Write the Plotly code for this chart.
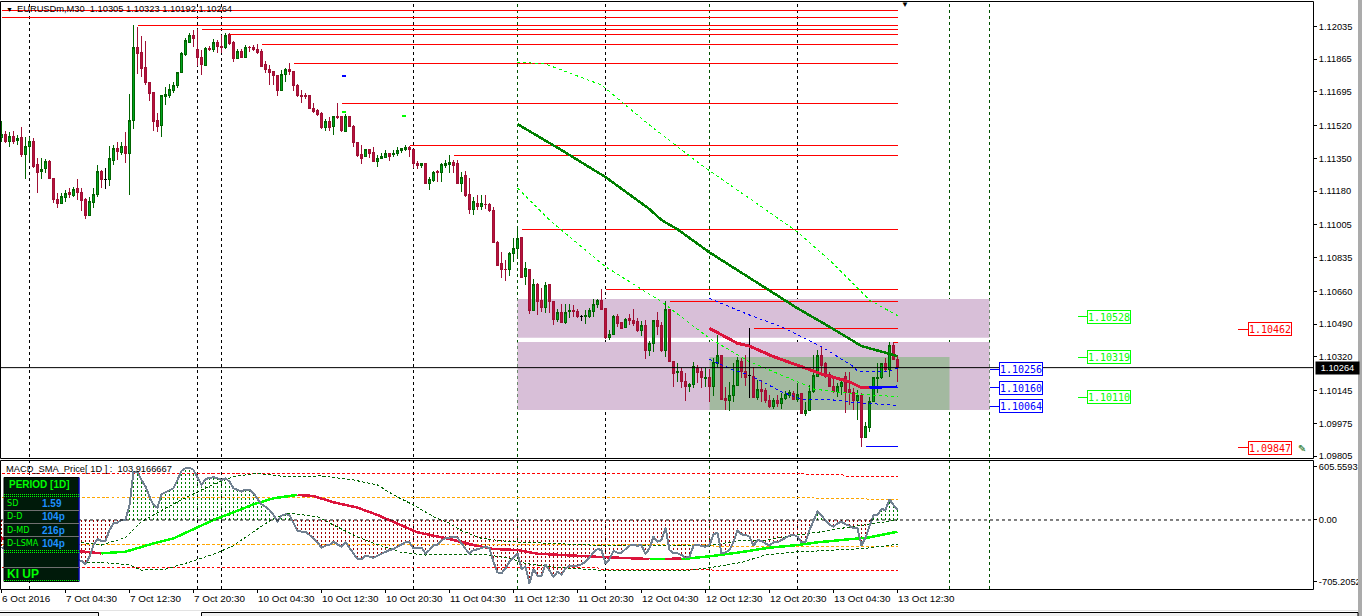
import plotly.graph_objects as go

# ---------- DATA (prices in 1e-5 above 1.0) ----------
opens = [11458,11475,11437,11466,11442,11456,11368,11411,11440,11316,11281,11297,11336,11248,11137,11115,11146,11172,11160,11196,
11174,11139,11056,11120,11165,11284,11241,11238,11338,11399,11383,11414,11376,11546,11928,11899,11824,11745,11693,11549,
11520,11670,11679,11705,11727,11795,11887,11954,11990,11913,11874,11831,11921,11913,11954,11933,11925,11992,11954,11868,
11907,11874,11928,11926,11916,11907,11835,11814,11800,11781,11701,11784,11812,11803,11731,11677,11677,11674,11611,11601,
11584,11508,11544,11515,11568,11565,11492,11565,11518,11433,11368,11359,11394,11383,11336,11349,11357,11376,11368,11373,
11392,11394,11407,11394,11326,11312,11323,11219,11236,11284,11276,11312,11316,11329,11321,11219,11259,11165,11087,11118,
11098,11113,11113,11082,10916,10802,10776,10771,10857,10881,10937,10736,10774,10559,10698,10610,10575,10693,10608,10516,
10551,10497,10554,10563,10556,10530,10530,10532,10558,10591,10615,10573,10423,10435,10530,10497,10471,10518,10511,10502,
10459,10485,10352,10388,10511,10485,10355,10566,10296,10238,10246,10193,10165,10174,10260,10246,10210,10213,10165,10286,
10329,10104,10092,10118,10170,10298,10246,10222,10217,10111,10148,10144,10094,10060,10094,10079,10104,10122,10130,10099,
10130,10028,10042,10139,10220,10329,10283,10229,10168,10139,10165,10217,10153,10134,10091,10118,9902,9954,10087,10210,
10212,10286,10255,10381,10305]
closes = [11475,11440,11466,11437,11451,11368,11414,11440,11310,11276,11295,11336,11245,11136,11115,11150,11167,11162,11191,11172,
11134,11056,11124,11165,11283,11239,11241,11347,11399,11385,11414,11376,11547,11928,11892,11819,11743,11688,11544,11518,
11674,11684,11710,11731,11797,11892,11961,11990,11971,11873,11835,11921,11913,11952,11933,11925,11990,11947,11868,11907,
11874,11926,11925,11913,11902,11829,11812,11795,11779,11701,11788,11809,11803,11726,11674,11670,11672,11608,11596,11580,
11509,11542,11513,11568,11560,11494,11565,11515,11432,11364,11352,11394,11378,11336,11352,11362,11378,11362,11376,11392,
11399,11409,11395,11323,11312,11321,11219,11241,11279,11279,11316,11324,11329,11312,11219,11253,11160,11087,11124,11098,
11118,11110,11079,10913,10796,10776,10772,10857,10883,10935,10732,10779,10559,10698,10606,10575,10691,10606,10516,10551,
10497,10551,10563,10553,10527,10530,10535,10561,10594,10615,10565,10423,10437,10530,10494,10469,10516,10508,10494,10459,
10485,10352,10390,10511,10480,10355,10568,10295,10236,10245,10191,10165,10179,10269,10241,10212,10213,10165,10291,10328,
10101,10092,10120,10172,10303,10246,10215,10222,10111,10148,10139,10091,10060,10094,10079,10104,10127,10136,10101,10127,
10028,10044,10141,10224,10329,10277,10217,10165,10139,10168,10187,10137,10136,10091,10118,9904,9956,10089,10213,10215,
10286,10252,10381,10307,10264]
highs = [11544,11492,11489,11492,11471,11513,11459,11463,11454,11350,11350,11347,11342,11250,11169,11172,11186,11195,11203,11243,
11195,11143,11151,11195,11316,11290,11302,11416,11419,11437,11437,11489,11684,12042,12034,11985,11959,11748,11696,11584,
11679,11722,11736,11748,11800,11904,11973,11999,12016,12020,11913,11930,11933,11968,11964,11990,11999,11999,11959,11916,
11916,11938,11935,11938,11944,11916,11855,11835,11805,11783,11809,11817,11843,11805,11734,11705,11688,11675,11636,11608,
11592,11553,11567,11570,11636,11570,11580,11570,11523,11437,11419,11397,11397,11409,11368,11380,11394,11378,11394,11409,
11402,11419,11416,11396,11338,11328,11324,11255,11284,11290,11324,11342,11368,11342,11342,11281,11284,11250,11148,11158,
11158,11160,11117,11096,10923,10862,10822,10864,10935,10982,10940,10810,10776,10722,10701,10675,10706,10696,10610,10566,
10592,10592,10594,10589,10566,10539,10563,10572,10622,10620,10672,10573,10459,10537,10542,10502,10523,10540,10568,10520,
10508,10511,10404,10511,10554,10502,10611,10568,10296,10286,10260,10234,10186,10291,10277,10264,10264,10257,10312,10433,
10331,10165,10191,10286,10321,10312,10329,10468,10269,10200,10200,10156,10122,10104,10122,10130,10144,10148,10144,10182,
10130,10087,10174,10329,10355,10369,10295,10243,10217,10182,10208,10243,10243,10156,10148,10130,9983,10113,10217,10290,
10286,10312,10395,10395,10323]
lows = [11437,11432,11411,11425,11419,11359,11243,11342,11302,11172,11243,11272,11241,11117,11092,11113,11122,11143,11151,11134,
11079,11035,11051,11091,11151,11195,11191,11208,11317,11342,11368,11328,11160,11502,11788,11774,11731,11648,11492,11489,
11463,11627,11662,11688,11717,11791,11881,11947,11930,11831,11783,11829,11907,11904,11899,11899,11919,11938,11852,11864,
11873,11871,11904,11909,11892,11826,11795,11731,11731,11674,11700,11748,11783,11701,11670,11639,11656,11605,11584,11572,
11501,11494,11492,11471,11554,11489,11485,11513,11411,11355,11323,11355,11354,11333,11307,11345,11354,11336,11359,11362,
11380,11388,11357,11298,11295,11298,11217,11186,11229,11229,11227,11298,11276,11276,11217,11177,11151,11063,11056,11082,
11082,11087,11072,10909,10791,10731,10713,10741,10814,10840,10727,10693,10542,10556,10537,10554,10549,10549,10485,10502,
10494,10492,10520,10528,10520,10506,10490,10520,10528,10572,10563,10411,10407,10431,10476,10463,10468,10485,10480,10450,
10430,10309,10324,10347,10433,10347,10321,10291,10165,10191,10156,10091,10139,10156,10182,10156,10165,10087,10118,10260,
10094,10044,10040,10087,10168,10208,10168,10104,10108,10096,10087,10079,10053,10047,10061,10049,10096,10104,10096,10087,
10023,10013,10040,10134,10217,10226,10208,10162,10130,10113,10122,10030,10070,10044,9992,9854,9897,9931,10085,10130,
10207,10243,10217,10303,10192]

macd_main = [-324,-305,-286,-305,-324,-362,-400,-362,-381,-400,-419,-438,-400,-400,-400,-419,-457,-476,-457,-457,
-465,-503,-419,-286,-217,-240,-240,-114,-38,-30,0,0,171,552,552,457,381,267,171,141,
293,316,343,362,457,560,591,598,572,476,400,469,476,488,476,457,476,438,362,343,
324,347,343,305,248,179,152,114,57,-19,50,65,57,-38,-126,-133,-133,-171,-217,-255,
-316,-293,-286,-248,-278,-305,-255,-316,-381,-446,-446,-408,-419,-431,-408,-385,-362,-343,-331,-305,
-278,-255,-255,-324,-324,-316,-381,-343,-286,-286,-229,-210,-202,-190,-202,-267,-331,-381,-343,-335,
-324,-305,-324,-476,-598,-610,-552,-476,-431,-381,-560,-533,-724,-560,-636,-636,-507,-572,-648,-591,
-621,-552,-526,-526,-522,-507,-476,-427,-370,-331,-343,-495,-446,-354,-373,-373,-335,-293,-286,-293,
-286,-389,-324,-190,-248,-229,-88,-343,-381,-381,-400,-431,-419,-293,-286,-293,-305,-286,-164,-145,
-381,-370,-343,-248,-118,-164,-171,-190,-293,-229,-240,-267,-293,-255,-255,-229,-202,-179,-171,-190,
-255,-255,-114,0,95,50,0,-57,-76,-38,-19,-50,-65,-95,-95,-293,-202,-65,57,57,
126,114,236,171,114]

sig_red1_bar = [0,19,25]
sig_red1 = [-210,-354,-381]
sig_green1_bar = [25,31,33,38,43,48,53,58,63,68,74]
sig_green1 = [-381,-362,-335,-267,-210,-103,0,88,179,248,286]
sig_red2_bar = [74,78,83,89,94,99,104,112,118,123,129,134,141,150,160,162]
sig_red2 = [286,274,202,141,57,-38,-141,-217,-286,-331,-343,-385,-404,-423,-442,-446]
sig_green2_bar = [162,166]
sig_green2 = [-446,-446]
sig_red3_bar = [166,170]
sig_red3 = [-446,-438]
sig_green3_bar = [170,177,184,192,199,204,217,224]
sig_green3 = [-446,-415,-373,-316,-286,-255,-198,-133]

env_up_bar = [20,25,31,35,41,47,53,58,64,71,80,88,94,98,103,108,112,115,120,127,137,151,159,167,177,184,191,199,204,210,217,224]
env_up = [-255,-286,-202,-19,133,278,408,495,533,495,503,457,400,286,171,38,-38,-122,-210,-248,-267,-293,-286,-286,-293,-240,-229,-171,-141,-95,-50,0]
env_lo_bar = [20,25,32,35,41,46,53,58,63,68,72,79,83,88,93,100,106,112,117,122,127,131,137,149,172,177,185,191,199,204,216,224]
env_lo = [-484,-484,-514,-572,-560,-495,-392,-293,-133,19,76,38,-57,-171,-267,-370,-400,-392,-392,-400,-438,-495,-533,-572,-572,-545,-484,-400,-362,-354,-324,-278]

lvl_red_up_bar = [0,200,201,210,211,224]
lvl_red_up = [533,533,522,522,495,495]
lvl_or_up_bar = [0,203,204,216,217,224]
lvl_or_up = [259,259,244,244,229,229]
lvl_or_lo_bar = [0,177,178,224]
lvl_or_lo = [-278,-278,-297,-297]
lvl_red_lo_bar = [0,149,150,177,178,224]
lvl_red_lo = [-545,-545,-564,-564,-575,-575]

red_level_price = [12118,12082,12041,12020,11994,11942,11843,11636,11418,11366,10982,10670,10608,10468,10395]
red_level_start = [0,0,34,50,57,65,73,85,102,113,130,151,167,188,223]

ma_dark_bar = [129,140,151,162,165,169,177,184,191,196,199,207,215,224]
ma_dark = [11528,11393,11253,11087,11030,10982,10862,10770,10675,10610,10572,10476,10376,10324]
ma_up_bar = [129,136,150,162,175,195,199,207,217,224]
ma_up = [11850,11840,11731,11523,11315,11030,10969,10822,10615,10534]
ma_lo_bar = [129,137,151,165,177,187,200,203,212,224]
ma_lo = [11196,11030,10788,10606,10416,10295,10182,10153,10130,10113]
crim_bar = [177,184,187,193,200,205,212,215,217]
crim = [10468,10390,10376,10321,10269,10231,10191,10160,10160]
blue_mid_bar = [217,224]
blue_mid = [10160,10165]
blue_up_bar = [177,187,195,205,213,214,221,224]
blue_up = [10623,10537,10476,10373,10269,10246,10243,10260]
blue_lo_bar = [177,183,187,191,195,200,208,214,224]
blue_lo = [10307,10251,10226,10182,10139,10099,10096,10082,10068]
blue_floor_bar = [216,224]
blue_floor = [9855,9855]

zone_bar = [129,247]
zone_up = [10620,10419]
zone_lo = [10397,10044]
zone_green_bar = [177,237]
zone_green = [10319,10044]

grid_black = [7,49,55,103,151,199]
grid_green = [129,177,237,247]

last_price = 10264
price_ticks = [12035,11865,11695,11520,11350,11180,11005,10835,10660,10490,10320,10145,9975,9805]
macd_ticks = [605.5593,0,-705.2052]
macd_tick_text = ["605.5593","0.00","-705.2052"]
time_ticks = [0,16,32,48,64,80,96,112,128,144,160,176,192,208,224]
time_labels = ["6 Oct 2016","7 Oct 04:30","7 Oct 12:30","7 Oct 20:30","10 Oct 04:30","10 Oct 12:30","10 Oct 20:30",
 "11 Oct 04:30","11 Oct 12:30","11 Oct 20:30","12 Oct 04:30","12 Oct 12:30","12 Oct 20:30","13 Oct 04:30","13 Oct 12:30"]
green_box = [10528,10319,10110]
blue_box = [10256,10160,10064]
red_box = [10462,9847]

title_text = "EURUSDm,M30  1.10305 1.10323 1.10192 1.10264"
sub_title = "MACD_SMA_Price[ 1D ] :  103.9166667"
panel_rows = [("SD","1.59"),("D-D","104p"),("D-MD","216p"),("D-LSMA","104p")]

# ---------- HELPERS ----------
W, H = 1362, 616
px = lambda x: x / W
py = lambda y: 1 - y / H
pr = lambda p: 1 + p / 1e5
prs = lambda a: [pr(p) for p in a]
FONT = "Liberation Sans"
AX = 9.3
bars = list(range(len(opens)))
fig = go.Figure()

def line(xs, ys, color, width=1, dash="solid", yaxis="y"):
    fig.add_trace(go.Scatter(x=xs, y=ys, mode="lines", yaxis=yaxis, xaxis="x", hoverinfo="skip",
                             line=dict(color=color, width=width, dash=dash), showlegend=False))

# ---------- MAIN PANEL ----------
for s, p in zip(red_level_start, red_level_price):
    line([s, 224], [pr(p), pr(p)], "#FF0000", 1)

line(ma_up_bar, prs(ma_up), "#00FF00", 1, "3px,3px")
line(ma_lo_bar, prs(ma_lo), "#00FF00", 1, "3px,3px")
line(blue_up_bar, prs(blue_up), "#0000FF", 1, "3px,3px")
line(blue_lo_bar, prs(blue_lo), "#0000FF", 1, "3px,3px")

doji = [i for i in bars if opens[i] == closes[i]]
solid = [i for i in bars if opens[i] != closes[i]]
fig.add_trace(go.Candlestick(x=solid, open=[pr(opens[i]) for i in solid], high=[pr(highs[i]) for i in solid],
    low=[pr(lows[i]) for i in solid], close=[pr(closes[i]) for i in solid], showlegend=False, hoverinfo="skip",
    increasing=dict(line=dict(color="#006400", width=1), fillcolor="#00A51E"),
    decreasing=dict(line=dict(color="#A01035", width=1), fillcolor="#B8123C"), whiskerwidth=0))
for i in doji:
    line([i, i], [pr(lows[i]), pr(highs[i])], "#000000", 1)
    line([i-0.4, i+0.4], [pr(opens[i]), pr(opens[i])], "#000000", 1)

line(ma_dark_bar, prs(ma_dark), "#008000", 2.5)
line(crim_bar, prs(crim), "#DC143C", 3)
line(blue_mid_bar, prs(blue_mid), "#0000FF", 2.5)
line(blue_floor_bar, prs(blue_floor), "#0000FF", 1)
# short markers
line([85, 86.2], [pr(11778)]*2, "#0000FF", 2)
line([85, 86.2], [pr(11591)]*2, "#00FF00", 2)
line([100, 101.2], [pr(11570)]*2, "#00FF00", 2)

# label ticks
for v in green_box:
    line([269, 271.7], [pr(v)]*2, "#00FF00", 1)
for v in blue_box:
    line([247, 249.7], [pr(v)]*2, "#0000FF", 1)
for v in red_box:
    line([309, 311.7], [pr(v)]*2, "#FF0000", 1)

# ---------- SUB PANEL ----------
hx_g, hy_g, hx_r, hy_r = [], [], [], []
for i, v in zip(bars, macd_main):
    if v > 0:
        hx_g += [i, i, None]; hy_g += [0, v, None]
    elif v < 0:
        hx_r += [i, i, None]; hy_r += [0, v, None]
line(hx_g, hy_g, "#008000", 1, "2px,2px", "y2")
line(hx_r, hy_r, "#A00000", 1, "2px,2px", "y2")
line(lvl_red_up_bar, lvl_red_up, "#FF0000", 1, "3px,2px", "y2")
line(lvl_red_lo_bar, lvl_red_lo, "#FF0000", 1, "3px,2px", "y2")
line(lvl_or_up_bar, lvl_or_up, "#FFA500", 1, "3px,2px", "y2")
line(lvl_or_lo_bar, lvl_or_lo, "#FFA500", 1, "3px,2px", "y2")
line(env_up_bar, env_up, "#006400", 1, "3px,2px", "y2")
line(env_lo_bar, env_lo, "#006400", 1, "3px,2px", "y2")
for bx, vy, c in [(sig_red1_bar, sig_red1, "#DC143C"), (sig_green1_bar, sig_green1, "#00FF00"),
                  (sig_red2_bar, sig_red2, "#DC143C"), (sig_green2_bar, sig_green2, "#00FF00"),
                  (sig_red3_bar, sig_red3, "#DC143C"), (sig_green3_bar, sig_green3, "#00FF00")]:
    line(bx, vy, c, 2.5, "solid", "y2")
line(bars, macd_main, "#708090", 2, "solid", "y2")

# ---------- SHAPES ----------
shapes = []
THISTLE = "#D8BFD8"
for a, b in (zone_up, zone_lo):
    shapes.append(dict(type="rect", xref="x", yref="y", x0=zone_bar[0], x1=zone_bar[1], y0=pr(a), y1=pr(b),
                       fillcolor=THISTLE, line_width=0, layer="below"))
shapes.append(dict(type="rect", xref="x", yref="y", x0=zone_green_bar[0], x1=zone_green_bar[1], y0=pr(zone_green[0]), y1=pr(zone_green[1]),
                   fillcolor="#A3B9A0", line_width=0, layer="below"))
for k in grid_black:
    shapes.append(dict(type="line", xref="x", yref="paper", x0=k, x1=k, y0=py(589), y1=py(1),
                       line=dict(color="#000000", width=1, dash="3px,3px"), layer="below"))
for k in grid_green:
    shapes.append(dict(type="line", xref="x", yref="paper", x0=k, x1=k, y0=py(589), y1=py(1),
                       line=dict(color="#005000", width=1, dash="3px,3px"), layer="below"))
shapes.append(dict(type="line", xref="paper", yref="y", x0=px(0), x1=px(1313), y0=pr(last_price), y1=pr(last_price),
                   line=dict(color="#000000", width=1), layer="above"))
shapes.append(dict(type="line", xref="paper", yref="y2", x0=px(0), x1=px(1313), y0=0, y1=0,
                   line=dict(color="#000000", width=1, dash="3px,3px"), layer="above"))
# frames
for y0, y1 in ((1.5, 458.5), (460.5, 589.5)):
    shapes.append(dict(type="rect", xref="paper", yref="paper", x0=px(0.5), x1=px(1313.5), y0=py(y1), y1=py(y0),
                       line=dict(color="#000000", width=1), fillcolor="rgba(0,0,0,0)", layer="above"))
# window chrome
shapes.append(dict(type="rect", xref="paper", yref="paper", x0=px(1358), x1=1, y0=0, y1=1, fillcolor="#ABABAB", line_width=0, layer="above"))
shapes.append(dict(type="rect", xref="paper", yref="paper", x0=0, x1=px(1358), y0=py(611), y1=py(610), fillcolor="#E3E3E3", line_width=0, layer="above"))
shapes.append(dict(type="rect", xref="paper", yref="paper", x0=-0.01, x1=px(98.5), y0=-0.01, y1=py(612.5), fillcolor="#F0F0F0", line=dict(color="#000000", width=1), layer="above"))
shapes.append(dict(type="rect", xref="paper", yref="paper", x0=px(201.5), x1=px(1358), y0=-0.01, y1=py(612.5), fillcolor="#F0F0F0", line=dict(color="#000000", width=1), layer="above"))
# info panel
shapes.append(dict(type="rect", xref="paper", yref="paper", x0=px(4), x1=px(79), y0=py(581.5), y1=py(477.5),
                   fillcolor="#001A0A", line=dict(color="#000000", width=1), layer="above"))
shapes.append(dict(type="line", xref="paper", yref="paper", x0=px(79), x1=px(79), y0=py(581.5), y1=py(477.5),
                   line=dict(color="#0000FF", width=1), layer="above"))
for y in (494.5, 496.5, 550.5, 552.5, 580.5):
    shapes.append(dict(type="line", xref="paper", yref="paper", x0=px(4), x1=px(79), y0=py(y), y1=py(y),
                       line=dict(color="#00FF00", width=1, dash="1px,1px"), layer="above"))
for y in (510.5, 523.5, 536.5, 567.5):
    shapes.append(dict(type="line", xref="paper", yref="paper", x0=px(4), x1=px(79), y0=py(y), y1=py(y),
                       line=dict(color="#707070", width=1), layer="above"))

# ---------- TEXT ----------
ann = []
def txt(x, y, s, color="#000000", size=10, fam=FONT, **kw):
    ann.append(dict(xref="paper", yref="paper", x=px(x), y=py(y), text=s, showarrow=False, xanchor=kw.pop("xanchor", "left"),
                    yanchor="middle", font=dict(color=color, size=size, family=fam), borderpad=0, **kw))
txt(16, 9, title_text, "#000000", AX)
txt(5, 469, sub_title, "#000000", AX)
txt(8, 484, "<b>PERIOD [1D]</b>", "#00FF00", 10)
for (name, val), y in zip(panel_rows, (503, 516, 530, 543)):
    txt(5.5, y, name, "#00FF00", 9, "DejaVu Sans Condensed, Liberation Sans")
    txt(41, y, "<b>%s</b>" % val, "#1E90FF", 10)
txt(6, 574, "<b>KI UP</b>", "#00FF00", 12)
txt(5, 9.5, "▼", "#000000", 7)
txt(905, 5, "▼", "#000000", 8, xanchor="center")
txt(1302, 448, "✎", "#006400", 10, "DejaVu Sans", xanchor="center")

def box(k, v, color):
    ann.append(dict(xref="x", yref="y", x=k, y=pr(v), text="%.5f" % pr(v), showarrow=False, xanchor="center", yanchor="middle",
                    font=dict(color=color, size=10, family="DejaVu Sans Mono"), bordercolor=color, borderwidth=1, borderpad=0,
                    bgcolor="#FFFFFF", width=42, height=12))
for v in green_box:
    box(276.9, v, "#00FF00")
for v in blue_box:
    box(254.9, v, "#0000FF")
for v in red_box:
    box(317, v, "#FF0000")
ann.append(dict(xref="paper", yref="y", x=px(1315), y=pr(last_price), text="1.10264", showarrow=False, xanchor="left", yanchor="middle",
                font=dict(color="#FFFFFF", size=AX, family=FONT), bgcolor="#000000", width=43, height=12, borderpad=0))

fig.update_layout(
    width=W, height=H, margin=dict(l=0, r=0, t=0, b=0, autoexpand=False), paper_bgcolor="#FFFFFF", plot_bgcolor="#FFFFFF",
    showlegend=False, shapes=shapes, annotations=ann, font=dict(family=FONT, size=AX, color="#000000"),
    xaxis=dict(domain=[px(1), px(1313)], range=[-0.125, 327.875], anchor="y2", tickmode="array", tickvals=time_ticks, ticktext=time_labels,
               ticks="outside", ticklen=3, tickcolor="#000000", showgrid=False, zeroline=False, rangeslider=dict(visible=False),
               ticklabelposition="outside right", tickangle=0, tickfont=dict(size=9.9, family=FONT), fixedrange=True),
    yaxis=dict(domain=[py(458), py(1)], range=[pr(9795), pr(12167)], side="right", anchor="x", tickmode="array",
               tickvals=prs(price_ticks), ticktext=["%.5f" % pr(p) for p in price_ticks], ticks="outside", ticklen=3, tickcolor="#000000",
               showgrid=False, zeroline=False, tickfont=dict(size=AX, family=FONT), fixedrange=True),
    yaxis2=dict(domain=[py(589), py(460)], range=[-788, 685], side="right", anchor="x", tickmode="array",
                tickvals=macd_ticks, ticktext=macd_tick_text, ticks="outside", ticklen=3, tickcolor="#000000",
                showgrid=False, zeroline=False, tickfont=dict(size=AX, family=FONT), fixedrange=True),
)
fig.write_html("out.html", config=dict(displayModeBar=False),
               post_script="document.body.style.margin='0';document.documentElement.style.overflow='hidden';"
                           "document.querySelectorAll('.scatterlayer path,.boxlayer path').forEach(function(p){p.style.shapeRendering='crispEdges';});")
